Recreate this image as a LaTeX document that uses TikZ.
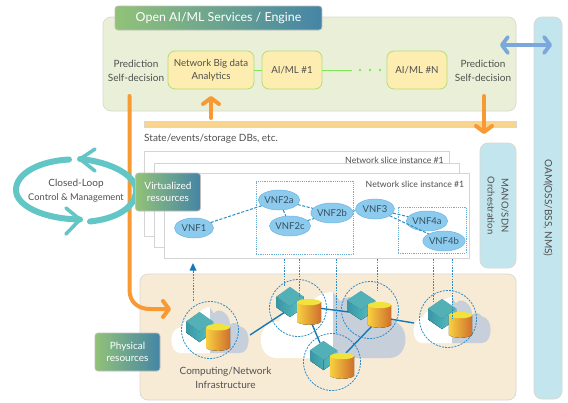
\documentclass[tikz,border=0pt]{standalone}
\usepackage{fontspec}
\setmainfont{Lato}
\usetikzlibrary{arrows.meta,shapes.geometric}
\definecolor{txt}{HTML}{505050}
\definecolor{gpanel}{HTML}{E9F0D7}
\definecolor{edgeg}{HTML}{D8D8D0}
\definecolor{ypanel}{HTML}{FDEDB0}
\definecolor{ygedge}{HTML}{B5DC78}
\definecolor{tealbar}{HTML}{C3E5EE}
\definecolor{orangeA}{HTML}{F79A33}
\definecolor{barO}{HTML}{F9D48C}
\definecolor{loopc}{HTML}{62C6C6}
\definecolor{dbl}{HTML}{7BA8DA}
\definecolor{vnfc}{HTML}{8CCBEE}
\definecolor{vnfe}{HTML}{6FB5E0}
\definecolor{vnft}{HTML}{35505F}
\definecolor{dash}{HTML}{2B8CC6}
\definecolor{linkc}{HTML}{1479B8}
\definecolor{phys}{HTML}{F8EBD6}
\definecolor{cloudg}{HTML}{C6CFDA}
\definecolor{gradL}{HTML}{92C278}
\definecolor{gradR}{HTML}{4485A6}
\definecolor{cubeL}{HTML}{3A96A4}
\definecolor{cubeM}{HTML}{48ADB4}
\definecolor{cubeR}{HTML}{62C2C2}
\definecolor{cubeT}{HTML}{52B0B6}
\definecolor{cylL}{HTML}{F8D040}
\definecolor{cylM}{HTML}{F2AE30}
\definecolor{cylR}{HTML}{CF6F2C}
\definecolor{cylT}{HTML}{F2E23C}
\tikzset{
  txtn/.style={text=txt,font=\fontsize{10}{12.5}\selectfont,align=center,inner sep=0pt},
  labelbox/.style={rounded corners=3pt,draw=black!25,line width=.7pt,left color=gradL,right color=gradR,text=white,align=center,font=\fontsize{10}{12.5}\selectfont,inner sep=0pt},
  aibox/.style={rounded corners=7pt,draw=ygedge,fill=ypanel,line width=.8pt,text=txt,align=center,font=\fontsize{9.7}{13}\selectfont,inner sep=0pt,minimum height=38pt},
  panel/.style={rounded corners=8pt,draw=edgeg,line width=.7pt},
  slicebox/.style={draw=black!17,fill=white,line width=.8pt},
  vnf/.style={ellipse,draw=vnfe,fill=vnfc,line width=.5pt,text=vnft,font=\fontsize{9.5}{11}\selectfont,minimum width=39pt,minimum height=20pt,inner sep=0pt},
  vnflink/.style={draw=dash,line width=1pt,dash pattern=on 3pt off 1.6pt},
  dotv/.style={draw=dash,line width=.9pt,dash pattern=on 1.6pt off 1.2pt},
  dotbox/.style={draw=dash!70,line width=.7pt,dash pattern=on 1.2pt off 1pt},
  ring/.style={draw=dash,line width=.8pt,dash pattern=on 2pt off 1.2pt},
  netlink/.style={draw=linkc,line width=1.4pt},
  oarrow/.style={draw=orangeA,line width=4pt,line cap=round,-{Straight Barb[length=6pt,width=16pt,line width=4pt,round]}},
  looparc/.style={draw=loopc,line width=6pt,line cap=round},
  loophead/.style={draw=loopc,line width=3.6pt,line cap=round,line join=round},
}
% cube: centre x, top y, half width, height
\newcommand{\mycube}[4]{%
  \begin{scope}[shift={(#1,#2)},xscale=#3,yscale=#4]
    \fill[cubeM] (-1,.32) -- (0,0) -- (1,.32) -- (1,.68) -- (0,1) -- (-1,.68) -- cycle;
    \fill[left color=cubeL,right color=cubeM] (-1,.32) -- (0,.65) -- (0,1) -- (-1,.68) -- cycle;
    \fill[left color=cubeM,right color=cubeR] (0,.65) -- (1,.32) -- (1,.68) -- (0,1) -- cycle;
    \fill[cubeT] (-1,.32) -- (0,0) -- (1,.32) -- (0,.65) -- cycle;
  \end{scope}}
% cylinder: centre x, top y, half width, height
\newcommand{\mycyl}[4]{%
  \begin{scope}[shift={(#1,#2)},xscale=#3,yscale=#4]
    \fill[left color=cylL,middle color=cylM,right color=cylR]
      (-1,.12) -- (-1,.88) .. controls (-.6,1.03) and (.6,1.03) .. (1,.88) -- (1,.12) -- cycle;
    \fill[cylT] (0,.12) ellipse (1 and .12);
  \end{scope}}
\newcommand{\mycloud}[4]{%
  \begin{scope}[shift={(#1,#2)},xscale=#3,yscale=#4]
    \fill[white] (0,0) -- (-.75,0) .. controls (-1.03,0) and (-1.05,-.55) .. (-.72,-.56) .. controls (-.68,-.72) and (-.5,-.74) .. (-.38,-.68) .. controls (-.3,-.92) and (-.12,-1) .. (0,-1) -- cycle;
    \fill[cloudg] (0,0) -- (.75,0) .. controls (1.03,0) and (1.05,-.55) .. (.74,-.58) .. controls (.7,-.66) and (.58,-.68) .. (.5,-.62) .. controls (.5,-.85) and (.22,-1.02) .. (.1,-.86) .. controls (.06,-.9) and (.03,-.95) .. (0,-1) -- cycle;
  \end{scope}}
\begin{document}
\begin{tikzpicture}[x=1pt,y=-1pt]
\useasboundingbox (0,0) rectangle (568,402);
\fill[white] (0,0) rectangle (568,402);
% OAM bar
\node[panel,fill=tealbar,minimum width=28pt,minimum height=382pt,inner sep=0pt] (oam) at (548,208) {};
\node[txtn,rotate=-90] (oamt) at (548,208) {OAM(OSS/BSS, NMS)};
% top panel
\node[panel,fill=gpanel,minimum width=413pt,minimum height=94pt,inner sep=0pt] (ai) at (309.5,64) {};
\node[labelbox,minimum width=207pt,minimum height=24pt,font=\fontsize{12.4}{15}\selectfont] (title) at (218.5,18) {Open AI/ML Services / Engine};
\node[txtn] (pl) at (136,71) {Prediction\\[1pt]Self-decision};
\node[txtn] (pr) at (483,71) {Prediction\\[1pt]Self-decision};
\node[aibox,minimum width=86pt] (nbd) at (211,70) {Network Big data\\Analytics};
\node[aibox,minimum width=60pt] (ml1) at (292,70) {AI/ML \#1};
\node[aibox,minimum width=60pt] (mln) at (417,70) {AI/ML \#N};
\coordinate (dotsS) at (352,70);
\coordinate (d1) at (360,70);\coordinate (d2) at (370,70);\coordinate (d3) at (380,70);
\draw[ygedge!70!green,line width=1pt] (nbd) -- (ml1);
\draw[ygedge!70!green,line width=1pt] (ml1) -- (dotsS);
\foreach \d in {d1,d2,d3}{\fill[ygedge!70!green] (\d) circle (1.3pt);}
% bar
\node[fill=barO,draw=edgeg,line width=.4pt,minimum width=372pt,minimum height=6pt,inner sep=0pt] (bar) at (330,124) {};
\node[txtn,anchor=west] (st) at (144,139) {State/events/storage DBs, etc.};
% arrows top
\coordinate (upS) at (211,118);\coordinate (upE) at (211,96);
\draw[oarrow] (upS) -- (upE);
\coordinate (dnS) at (484,96);\coordinate (dnE) at (484,134);
\draw[oarrow] (dnS) -- (dnE);
\coordinate (dblS) at (500,45);\coordinate (dblE) at (552,45);
\draw[draw=dbl,line width=3.8pt,{Straight Barb[length=6pt,width=16pt,line width=3.8pt,round]}-{Straight Barb[length=6pt,width=16pt,line width=3.8pt,round]}] (dblS) -- (dblE);
% MANO
\node[panel,fill=tealbar,minimum width=36pt,minimum height=125pt,inner sep=0pt] (mano) at (498,205.5) {};
\node[txtn,rotate=-90,font=\fontsize{9.5}{14}\selectfont] (manot) at (498,205.5) {MANO/SDN\\Orchestration};
% physical panel
\node[panel,fill=phys,minimum width=376pt,minimum height=126pt,inner sep=0pt] (phy) at (328,337) {};
% long orange arrow
\coordinate (loS) at (129.5,96);\coordinate (loE) at (171,309);
\draw[oarrow] (loS) -- (129.5,290) .. controls (129.5,302) and (138,309) .. (150,309) -- (loE);
% slices
\node[slicebox,minimum width=305pt,minimum height=85pt,inner sep=0pt] (s1) at (296.5,193.5) {};
\node[txtn,font=\fontsize{8.7}{10}\selectfont] (s1t) at (394.5,160.5) {Network slice instance \#1};
\node[slicebox,minimum width=305pt,minimum height=84pt,inner sep=0pt] (s2) at (306.5,205) {};
\node[slicebox,minimum width=305pt,minimum height=85pt,inner sep=0pt] (s3) at (316.5,216) {};
\node[txtn,font=\fontsize{8.7}{10}\selectfont] (s3t) at (415,184) {Network slice instance \#1};
% dotted boxes
\node[dotbox,minimum width=97pt,minimum height=73pt,inner sep=0pt] (b1) at (304.5,217.5) {};
\node[dotbox,minimum width=68pt,minimum height=46pt,inner sep=0pt] (b2) at (432,230) {};
% VNFs
\node[vnf] (v1) at (194,228) {VNF1};
\node[vnf] (v2a) at (279,200) {VNF2a};
\node[vnf] (v2c) at (290,226) {VNF2c};
\node[vnf] (v2b) at (332,213) {VNF2b};
\node[vnf] (v3) at (375,209) {VNF3};
\node[vnf] (v4a) at (427,221) {VNF4a};
\node[vnf] (v4b) at (444,241) {VNF4b};
\draw[vnflink] (v1) -- (v2a);
\draw[vnflink] (v2a) -- (v2c);
\draw[vnflink] (v2a) -- (v2b);
\draw[vnflink] (v2c) -- (v2b);
\draw[vnflink] (v2b) -- (v3);
\draw[vnflink] (v3) -- (v4a);
\draw[vnflink] (v3) -- (v4b);
% clouds
\mycloud{210}{353}{40}{46}
\mycloud{333}{358}{75}{66}
\mycloud{452}{343}{40}{46}
% network links
\coordinate (n1) at (250,335);
\coordinate (n2a) at (285,312);
\coordinate (n2b) at (318,308);
\coordinate (n2c) at (312,324);
\coordinate (n3a) at (320,343);
\coordinate (n3b) at (346,353);
\coordinate (n4a) at (349,312);
\coordinate (n4b) at (372,326);
\coordinate (n4c) at (390,319);
\coordinate (n5a) at (414,323);
\draw[netlink] (n1) -- (n2a);
\draw[netlink] (n2b) -- (n4a);
\draw[netlink] (n2c) -- (n3a);
\draw[netlink] (n3b) -- (n4b);
\draw[netlink] (n4c) -- (n5a);
% rings
\coordinate (r1) at (210,330);\coordinate (r2) at (298,308);\coordinate (r3) at (332,362);\coordinate (r4) at (370,310);\coordinate (r5) at (448,319);
\foreach \r in {r1,r2,r3,r4,r5}{\draw[ring] (\r) circle (28.5pt);}
% equipment
\mycube{199.5}{312}{13.5}{30}
\mycyl{218}{324}{12}{27}
\mycube{290}{287}{13.5}{30}
\mycyl{309}{299}{12}{26}
\mycube{323.5}{341}{13.5}{29}
\mycyl{342}{353}{12}{26}
\mycube{361}{291}{14}{29}
\mycyl{379.5}{302}{11.7}{26}
\mycube{442}{299}{14}{30}
\mycyl{460.5}{312}{11.7}{26}
% dotted verticals
\coordinate (a0) at (193,301);\coordinate (a0e) at (193,263);
\draw[dotv] (a0) -- (193,270);
\fill[linkc] (a0e) -- (196.5,270.5) -- (189.5,270.5) -- cycle;
\foreach \x/\e in {284/286,299/298,336/333,377/291,433/302,452/318}{\draw[dotv] (\x,259) -- (\x,\e);}
\node[txtn] (cni) at (225.5,378) {Computing/Network\\[1pt]Infrastructure};
% closed loop
\coordinate (la) at (69,159.5);\coordinate (lb) at (80,159);\coordinate (lc) at (90,221.5);\coordinate (ld) at (80,219.5);
\draw[looparc] (la) .. controls (40,161) and (16,173) .. (16,190) .. controls (16,206) and (44,219) .. (ld);
\draw[looparc] (lb) .. controls (112,162) and (136,176) .. (136,190) .. controls (136,208) and (115,219) .. (lc);
\draw[loophead] (95,149) -- (lb) -- (95,171);
\draw[loophead] (66,208) -- (ld) -- (66,234);
\node[txtn] (cl) at (76,190.5) {Closed-Loop\\[1pt]{\fontsize{9.3}{12}\selectfont Control \& Management}};
% label boxes
\node[labelbox,minimum width=65pt,minimum height=38pt] (vr) at (168,192) {Virtualized\\resources};
\node[labelbox,minimum width=65pt,minimum height=38pt] (pr2) at (127.5,352) {Physical\\resources};
\end{tikzpicture}
\end{document}
